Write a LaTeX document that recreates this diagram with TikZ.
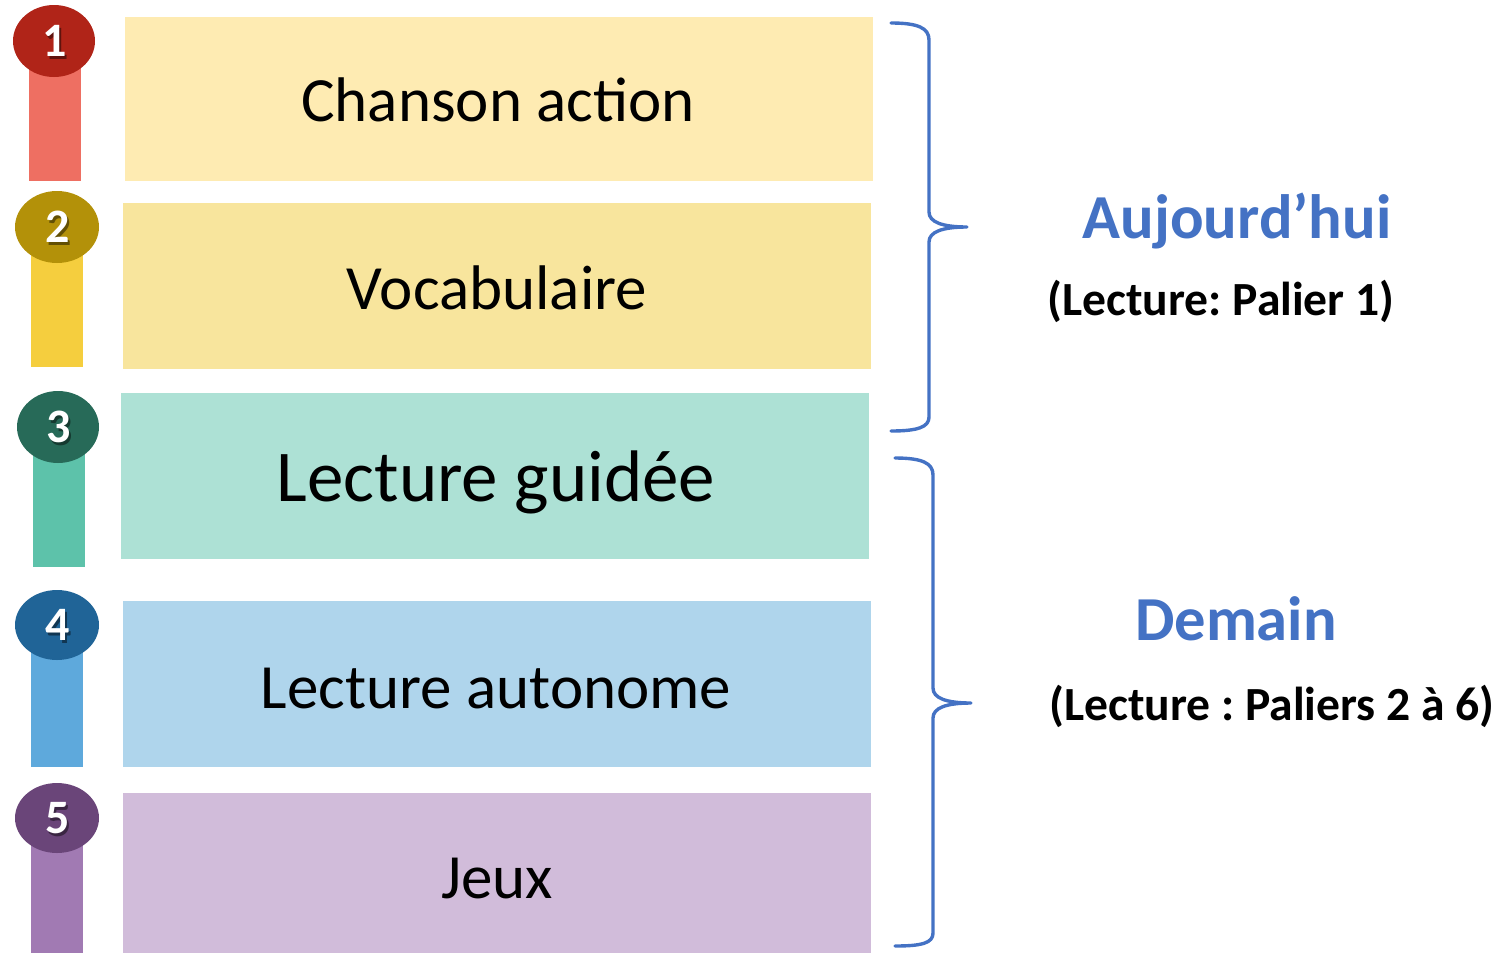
\documentclass[tikz,border=0pt]{standalone}
\usepackage{fontspec}
\setmainfont{Carlito}
\frenchspacing
\definecolor{boxA}{HTML}{FEEBB2}
\definecolor{boxB}{HTML}{F8E59D}
\definecolor{boxC}{HTML}{ADE1D5}
\definecolor{boxD}{HTML}{AFD5EC}
\definecolor{boxE}{HTML}{D1BCDA}
\definecolor{barA}{HTML}{EE6F62}
\definecolor{barB}{HTML}{F5CE3E}
\definecolor{barC}{HTML}{5DC2AA}
\definecolor{barD}{HTML}{5EA9DC}
\definecolor{barE}{HTML}{A17AB3}
\definecolor{dotA}{HTML}{B02418}
\definecolor{dotB}{HTML}{B39109}
\definecolor{dotC}{HTML}{276A58}
\definecolor{dotD}{HTML}{206497}
\definecolor{dotE}{HTML}{6A4579}
\definecolor{braceblue}{HTML}{4472C4}
\begin{document}
\begin{tikzpicture}[x=0.5pt,y=-0.5pt,
  steptext/.style={anchor=base,inner sep=0pt,font=\fontsize{31.5}{36}\selectfont},
  numtext/.style={inner sep=0pt,text=white,font=\bfseries\fontsize{24}{28}\selectfont},
  numshadow/.style={inner sep=0pt,text=black,opacity=0.45,font=\bfseries\fontsize{24}{28}\selectfont},
  headtext/.style={anchor=base,inner sep=0pt,text=braceblue,font=\bfseries\fontsize{31.3}{36}\selectfont},
  subtext/.style={anchor=base,inner sep=0pt,font=\bfseries\fontsize{23.8}{28}\selectfont},
  bracepath/.style={draw=braceblue,line width=1.7pt,line cap=round,line join=round}]
\useasboundingbox (0,0) rectangle (1507,953);
% boxes
\fill[boxA] (125,17) rectangle (873,181);
\fill[boxB] (123,203) rectangle (871,369);
\fill[boxC] (121,393) rectangle (869,559);
\fill[boxD] (123,601) rectangle (871,767);
\fill[boxE] (123,793) rectangle (871,953);
% bars
\fill[barA] (29,55) rectangle (81,181);
\fill[barB] (31,245) rectangle (83,367);
\fill[barC] (33,440) rectangle (85,567);
\fill[barD] (31,640) rectangle (83,767);
\fill[barE] (31,835) rectangle (83,953);
% dots
\fill[dotA] (54,41) ellipse [x radius=41,y radius=36];
\fill[dotB] (57,227) ellipse [x radius=42,y radius=36];
\fill[dotC] (58,427) ellipse [x radius=41,y radius=36];
\fill[dotD] (57,625) ellipse [x radius=42,y radius=35];
\fill[dotE] (57,818) ellipse [x radius=42,y radius=35];
% numbers
\node[numshadow] at (57,44) {1};
\node[numtext] (n1) at (55,41) {1};
\node[numshadow] at (60,230) {2};
\node[numtext] (n2) at (58,227) {2};
\node[numshadow] at (61,430) {3};
\node[numtext] (n3) at (59,427) {3};
\node[numshadow] at (60,628) {4};
\node[numtext] (n4) at (58,625) {4};
\node[numshadow] at (60,821) {5};
\node[numtext] (n5) at (58,818) {5};
% step texts
\node[steptext] (t1) at (498,121) {Chanson action};
\node[steptext] (t2) at (497,309) {Vocabulaire};
\node[steptext,font=\fontsize{36.5}{42}\selectfont] (t3) at (496,501) {Lecture guidée};
\node[steptext] (t4) at (496,708) {Lecture autonome};
\node[steptext] (t5) at (497,898) {Jeux};
% braces
\draw[bracepath] (891,23) .. controls (918,23) and (929,28) .. (929,40)
  -- (929,212) .. controls (929,222) and (942,227) .. (967,227)
  .. controls (942,227) and (929,232) .. (929,242)
  -- (929,417) .. controls (929,427) and (918,431) .. (891,431);
\draw[bracepath] (895,458) .. controls (922,458) and (933,463) .. (933,475)
  -- (933,688) .. controls (933,698) and (946,703) .. (971,703)
  .. controls (946,703) and (933,708) .. (933,718)
  -- (933,933) .. controls (933,943) and (922,946) .. (895,946);
% labels
\node[headtext] (h1) at (1237,238) {Aujourd’hui};
\node[subtext] (s1) at (1221,315) {(Lecture: Palier 1)};
\node[headtext] (h2) at (1236,640) {Demain};
\node[subtext] (s2) at (1272,720) {(Lecture : Paliers 2 à 6)};
\end{tikzpicture}
\end{document}
